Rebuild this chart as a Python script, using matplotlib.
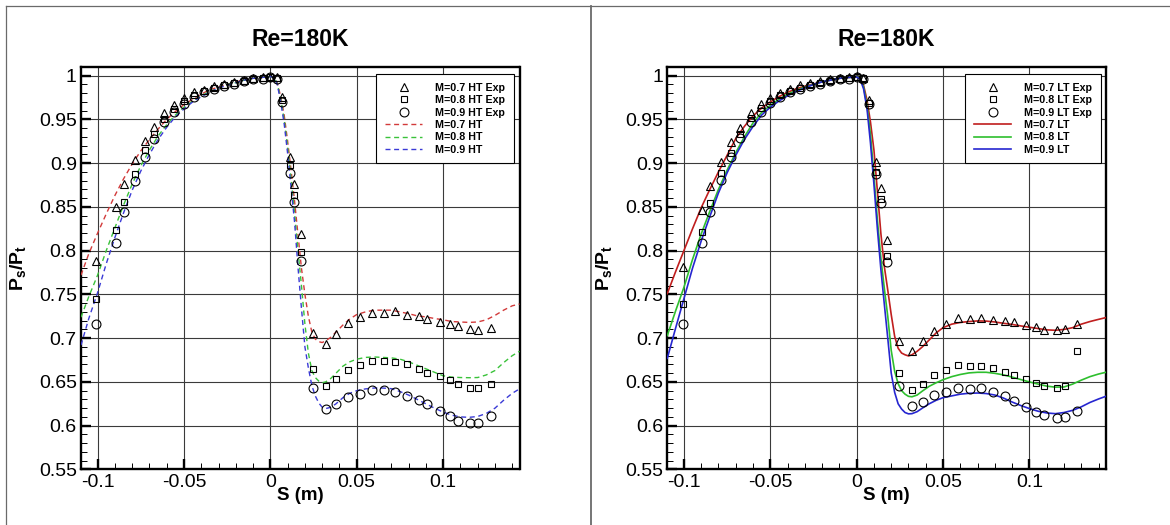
import matplotlib
matplotlib.use("Agg")
import matplotlib.pyplot as plt
from matplotlib.lines import Line2D
from matplotlib.ticker import MultipleLocator, FuncFormatter

plt.rcParams['font.family'] = ['Liberation Sans', 'DejaVu Sans']
plt.rcParams['mathtext.fontset'] = 'custom'
plt.rcParams['mathtext.bf'] = 'Liberation Sans:bold'
plt.rcParams['mathtext.rm'] = 'Liberation Sans'

# ---------------- data ----------------
title_text = "Re=180K"
xlabel_text = "S (m)"
ylabel_text = r"$\mathbf{P_s/P_t}$"

# probe locations along the surface (m)
s_exp = [-0.1008, -0.0896, -0.0847, -0.0783, -0.0728, -0.0673, -0.0614, -0.0555,
         -0.0499, -0.0442, -0.0384, -0.0326, -0.0269, -0.0213, -0.0152, -0.0098,
         -0.0042, 0.0000, 0.0036, 0.0069, 0.0111, 0.0138, 0.0175, 0.0245, 0.0321,
         0.0382, 0.0449, 0.0516, 0.0588, 0.0655, 0.0722, 0.0790, 0.0861, 0.0909,
         0.0979, 0.1038, 0.1087, 0.1158, 0.1204, 0.1277]

# measured Ps/Pt, high turbulence
ht07_exp = [0.788, 0.850, 0.876, 0.9035, 0.925, 0.941, 0.957, 0.967, 0.975, 0.981,
            0.984, 0.988, 0.991, 0.993, 0.995, 0.997, 0.998, 0.999, 0.998, 0.9755,
            0.9066, 0.8767, 0.8185, 0.7064, 0.6938, 0.7053, 0.7174, 0.7243, 0.7293,
            0.7293, 0.7308, 0.727, 0.725, 0.7224, 0.7185, 0.7167, 0.7136, 0.7102,
            0.709, 0.7117]
ht08_exp = [0.745, 0.8235, 0.856, 0.888, 0.915, 0.933, 0.951, 0.962, 0.971, 0.978,
            0.983, 0.986, 0.989, 0.992, 0.994, 0.996, 0.997, 0.999, 0.997, 0.9717,
            0.8978, 0.8637, 0.7985, 0.6644, 0.6453, 0.6538, 0.6641, 0.6698, 0.6739,
            0.6736, 0.6728, 0.6701, 0.6652, 0.6606, 0.6564, 0.6518, 0.6473, 0.6435,
            0.6435, 0.6481]
ht09_exp = [0.716, 0.809, 0.844, 0.880, 0.907, 0.928, 0.947, 0.959, 0.968, 0.9755,
            0.981, 0.985, 0.988, 0.991, 0.994, 0.996, 0.996, 0.999, 0.9966, 0.9698,
            0.889, 0.8556, 0.7879, 0.643, 0.6195, 0.6252, 0.6328, 0.6366, 0.6404,
            0.6404, 0.6385, 0.6343, 0.6289, 0.6244, 0.6167, 0.6106, 0.6053, 0.6034,
            0.6034, 0.6106]

# measured Ps/Pt, low turbulence
lt07_exp = [0.7815, 0.847, 0.874, 0.9016, 0.9245, 0.9405, 0.957, 0.9676, 0.975, 0.980,
            0.985, 0.989, 0.992, 0.994, 0.9966, 0.997, 0.9985, 0.9997, 0.997, 0.9725,
            0.9008, 0.872, 0.8127, 0.6965, 0.6854, 0.6968, 0.7082, 0.7167, 0.7231,
            0.7224, 0.7231, 0.7213, 0.7197, 0.7182, 0.7156, 0.7128, 0.7094, 0.7094,
            0.7105, 0.7167]
lt08_exp = [0.7388, 0.8215, 0.854, 0.8883, 0.912, 0.9333, 0.9512, 0.9627, 0.9714, 0.978,
            0.983, 0.986, 0.989, 0.992, 0.994, 0.996, 0.997, 0.999, 0.997, 0.9686,
            0.8894, 0.8587, 0.7936, 0.6602, 0.6404, 0.648, 0.6575, 0.6633, 0.669,
            0.6682, 0.6682, 0.6659, 0.6613, 0.6575, 0.653, 0.6487, 0.645, 0.6435,
            0.6453, 0.6854]
lt09_exp = [0.7167, 0.809, 0.8444, 0.8807, 0.9073, 0.9284, 0.9474, 0.9588, 0.969, 0.9755,
            0.981, 0.985, 0.988, 0.991, 0.994, 0.996, 0.996, 0.999, 0.9966, 0.968,
            0.8874, 0.8541, 0.7867, 0.645, 0.6224, 0.627, 0.6347, 0.6385, 0.643,
            0.6423, 0.643, 0.6385, 0.6335, 0.6282, 0.6213, 0.6156, 0.6118, 0.6087,
            0.6098, 0.6167]

# computed distributions (m)
s_cfd = [-0.1096, -0.105, -0.100, -0.095, -0.090, -0.085, -0.080, -0.075, -0.070,
         -0.065, -0.060, -0.055, -0.050, -0.045, -0.040, -0.035, -0.030, -0.025,
         -0.020, -0.015, -0.010, -0.005, 0.000,
         0.002, 0.004, 0.006, 0.008, 0.010, 0.012, 0.014, 0.016, 0.018, 0.020,
         0.022, 0.024, 0.026, 0.028, 0.030, 0.032,
         0.035, 0.038, 0.042, 0.046, 0.050, 0.055, 0.060, 0.065, 0.070, 0.075,
         0.080, 0.085, 0.090, 0.095, 0.100, 0.105, 0.110, 0.115, 0.120, 0.125,
         0.130, 0.135, 0.140, 0.1442]

ht07_cfd = [0.772, 0.797, 0.820, 0.842, 0.863, 0.882, 0.899, 0.914, 0.927, 0.939, 0.950,
            0.959, 0.967, 0.973, 0.979, 0.984, 0.987, 0.990, 0.993, 0.995, 0.997, 0.998,
            0.999,
            0.998, 0.992, 0.976, 0.955, 0.925, 0.892, 0.857, 0.818, 0.780, 0.750, 0.725,
            0.707, 0.699, 0.696, 0.695, 0.697,
            0.701, 0.707, 0.715, 0.722, 0.727, 0.730, 0.732, 0.732, 0.732, 0.730, 0.728,
            0.7255, 0.7243, 0.7225, 0.721, 0.719, 0.7185, 0.718, 0.7185, 0.721, 0.726,
            0.732, 0.737, 0.739]
ht08_cfd = [0.724, 0.748, 0.772, 0.800, 0.826, 0.852, 0.876, 0.897, 0.915, 0.931, 0.944,
            0.955, 0.964, 0.971, 0.977, 0.982, 0.986, 0.990, 0.992, 0.995, 0.997, 0.998,
            0.999,
            0.998, 0.991, 0.973, 0.950, 0.918, 0.882, 0.843, 0.800, 0.760, 0.716, 0.683,
            0.663, 0.655, 0.651, 0.649, 0.650,
            0.654, 0.660, 0.668, 0.673, 0.676, 0.678, 0.6785, 0.678, 0.6775, 0.676, 0.673,
            0.669, 0.665, 0.661, 0.657, 0.6555, 0.655, 0.6548, 0.655, 0.658, 0.663, 0.672,
            0.680, 0.685]
ht09_cfd = [0.692, 0.723, 0.752, 0.785, 0.815, 0.843, 0.869, 0.891, 0.910, 0.927, 0.941,
            0.953, 0.962, 0.970, 0.976, 0.981, 0.986, 0.989, 0.992, 0.995, 0.997, 0.998,
            0.999,
            0.998, 0.990, 0.970, 0.945, 0.911, 0.872, 0.833, 0.781, 0.734, 0.690, 0.666,
            0.646, 0.634, 0.626, 0.621, 0.6195,
            0.621, 0.625, 0.632, 0.637, 0.640, 0.642, 0.643, 0.643, 0.6423, 0.639, 0.635,
            0.630, 0.625, 0.620, 0.6155, 0.612, 0.610, 0.6095, 0.6105, 0.614, 0.620, 0.629,
            0.637, 0.642]

lt07_cfd = [0.751, 0.775, 0.800, 0.825, 0.849, 0.870, 0.890, 0.909, 0.928, 0.942, 0.954,
            0.963, 0.970, 0.976, 0.981, 0.985, 0.988, 0.9905, 0.993, 0.995, 0.997, 0.998,
            0.9985,
            0.997, 0.989, 0.972, 0.947, 0.915, 0.868, 0.820, 0.782, 0.755, 0.727, 0.702,
            0.6885, 0.683, 0.681, 0.6797, 0.681,
            0.685, 0.690, 0.698, 0.706, 0.712, 0.716, 0.718, 0.719, 0.7197, 0.7195, 0.7185,
            0.717, 0.7157, 0.714, 0.7125, 0.711, 0.7095, 0.709, 0.710, 0.712, 0.716, 0.719,
            0.7215, 0.7235]
lt08_cfd = [0.703, 0.730, 0.758, 0.790, 0.819, 0.845, 0.870, 0.892, 0.912, 0.930, 0.946,
            0.958, 0.966, 0.973, 0.979, 0.983, 0.987, 0.990, 0.993, 0.995, 0.997, 0.998,
            0.9985,
            0.997, 0.987, 0.966, 0.933, 0.886, 0.835, 0.792, 0.757, 0.725, 0.686, 0.662,
            0.648, 0.640, 0.636, 0.6335, 0.633,
            0.635, 0.6395, 0.645, 0.649, 0.6525, 0.656, 0.6585, 0.6603, 0.661, 0.661, 0.6598,
            0.658, 0.6555, 0.6527, 0.650, 0.6475, 0.6452, 0.644, 0.6442, 0.6475, 0.652,
            0.656, 0.659, 0.661]
lt09_cfd = [0.677, 0.710, 0.745, 0.780, 0.811, 0.839, 0.866, 0.889, 0.909, 0.927, 0.942,
            0.955, 0.964, 0.971, 0.977, 0.982, 0.986, 0.990, 0.993, 0.995, 0.997, 0.998,
            0.9985,
            0.996, 0.985, 0.962, 0.923, 0.876, 0.825, 0.779, 0.739, 0.700, 0.660, 0.638,
            0.625, 0.619, 0.615, 0.6135, 0.6137,
            0.616, 0.620, 0.625, 0.629, 0.632, 0.634, 0.636, 0.637, 0.6373, 0.6367, 0.635,
            0.6315, 0.627, 0.623, 0.6195, 0.6165, 0.6145, 0.6137, 0.615, 0.6175, 0.6215,
            0.6265, 0.6305, 0.6335]

ht_exp_labels = ["M=0.7 HT Exp", "M=0.8 HT Exp", "M=0.9 HT Exp"]
ht_cfd_labels = ["M=0.7 HT", "M=0.8 HT", "M=0.9 HT"]
lt_exp_labels = ["M=0.7 LT Exp", "M=0.8 LT Exp", "M=0.9 LT Exp"]
lt_cfd_labels = ["M=0.7 LT", "M=0.8 LT", "M=0.9 LT"]

# ---------------- styling ----------------
W, H = 1170, 525
fig = plt.figure(figsize=(W / 100, H / 100), dpi=100)
fig.patch.set_facecolor('white')

markers = ['^', 's', 'o']
msizes = [5.8, 4.8, 6.4]
dash_colors = ['#d23a3a', '#3ac23a', '#3a3ad6']
solid_colors = ['#c01e1e', '#2ebf2e', '#2626d0']


def fmt(v, pos):
    return '%g' % round(v, 4)


def build_panel(rect, exp_sets, exp_labels, cfd_sets, cfd_labels, dashed, colors, leg_x):
    ax = fig.add_axes(rect)
    ax.set_xlim(-0.1096, 0.1442)
    ax.set_ylim(0.55, 1.0096)
    ax.xaxis.set_major_locator(MultipleLocator(0.05))
    ax.xaxis.set_minor_locator(MultipleLocator(0.01))
    ax.yaxis.set_major_locator(MultipleLocator(0.05))
    ax.yaxis.set_minor_locator(MultipleLocator(0.01))
    ax.xaxis.set_major_formatter(FuncFormatter(fmt))
    ax.yaxis.set_major_formatter(FuncFormatter(fmt))
    ax.grid(True, which='major', color='#3a3a3a', linewidth=0.8)
    ax.set_axisbelow(True)
    for sp in ax.spines.values():
        sp.set_linewidth(1.7)
    ax.tick_params(which='both', direction='in', top=False, right=False)
    ax.tick_params(which='major', length=7, width=1.7, labelsize=14, pad=3)
    ax.tick_params(which='minor', length=4, width=0.7)

    line_handles = []
    for ys, c, lab in zip(cfd_sets, colors, cfd_labels):
        if dashed:
            ln, = ax.plot(s_cfd, ys, color=c, lw=1.0, dashes=(3.6, 2.6), label=lab, zorder=3)
        else:
            ln, = ax.plot(s_cfd, ys, color=c, lw=1.2, label=lab, zorder=3)
        line_handles.append(ln)
    mark_handles = []
    for ys, m, ms, lab in zip(exp_sets, markers, msizes, exp_labels):
        h, = ax.plot(s_exp, ys, linestyle='none', marker=m, ms=ms, mfc='none',
                     mec='black', mew=0.8, label=lab, zorder=4, clip_on=False)
        mark_handles.append(h)

    ax.set_xlabel(xlabel_text, fontsize=13.5, fontweight='bold')
    ax.xaxis.set_label_coords(0.5, -0.045)
    ax.set_ylabel(ylabel_text, fontsize=14)
    ax.yaxis.set_label_coords(-0.121, 0.5)

    leg = ax.legend(mark_handles + line_handles, exp_labels + cfd_labels,
                    loc='upper right', bbox_to_anchor=(leg_x, 0.9826),
                    borderaxespad=0, numpoints=1, handlelength=3.5,
                    handletextpad=1.2, labelspacing=0.22, borderpad=0.8,
                    fancybox=False, framealpha=1,
                    prop={'weight': 'bold', 'size': 7.7})
    leg.get_frame().set_edgecolor('black')
    leg.get_frame().set_linewidth(0.8)
    leg.set_zorder(6)

    bb = ax.get_position()
    fig.text((bb.x0 + bb.x1) / 2, 1 - 40 / H, title_text, ha='center', va='center',
             fontsize=16.5, fontweight='bold')
    return ax


ax_w = 438.5 / W
ax_h = 402.1 / H
ax_b = 1 - 469.4 / H

build_panel([81 / W, ax_b, ax_w, ax_h],
            [ht07_exp, ht08_exp, ht09_exp], ht_exp_labels,
            [ht07_cfd, ht08_cfd, ht09_cfd], ht_cfd_labels,
            True, dash_colors, 0.987)
build_panel([667.3 / W, ax_b, ax_w, ax_h],
            [lt07_exp, lt08_exp, lt09_exp], lt_exp_labels,
            [lt07_cfd, lt08_cfd, lt09_cfd], lt_cfd_labels,
            False, solid_colors, 0.9886)

# page frame: top and left borders with a divider between the two panels
frame_col = '#6a6a6a'
fig.add_artist(Line2D([5.5 / W, 1.0], [1 - 5.5 / H, 1 - 5.5 / H], color=frame_col, lw=0.9,
                      transform=fig.transFigure))
fig.add_artist(Line2D([5.5 / W, 5.5 / W], [0.0, 1 - 5.5 / H], color=frame_col, lw=0.9,
                      transform=fig.transFigure))
fig.add_artist(Line2D([590.5 / W, 590.5 / W], [0.0, 1 - 5.5 / H], color=frame_col, lw=1.3,
                      transform=fig.transFigure))

fig.savefig('out.png', dpi=100, facecolor='white')
